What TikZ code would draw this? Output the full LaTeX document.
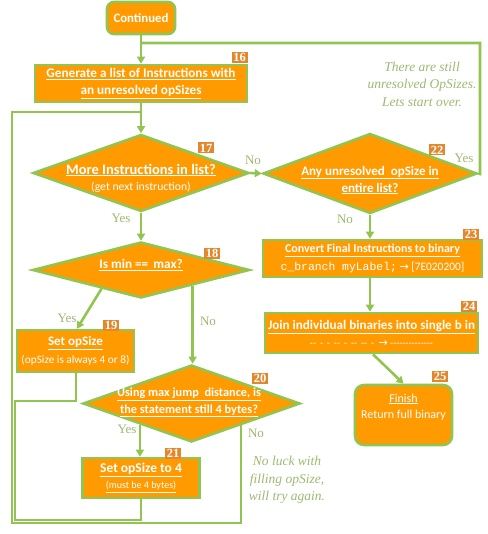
\documentclass[tikz,border=0pt]{standalone}
\usepackage{fontspec}
\setmainfont{Carlito}
\setmonofont{Liberation Mono}
\newfontfamily\notefont{Liberation Serif}
\newfontfamily\symbfont{DejaVu Sans}
\usetikzlibrary{shapes.geometric,arrows.meta,calc}
\definecolor{boxfill}{HTML}{FF9A00}
\definecolor{boxline}{HTML}{92C451}
\definecolor{badgefill}{HTML}{E3872D}
\definecolor{lbl}{HTML}{9DB870}
\newcommand{\ul}[1]{\underline{#1}}
\newcommand{\fs}[1]{\fontsize{#1}{#1}\selectfont}
\tikzset{
  proc/.style={draw=boxline, line width=2.6pt, fill=boxfill, text=white, inner sep=0pt, align=center},
  rproc/.style={proc, rounded corners=7pt},
  dia/.style={diamond, draw=boxline, line width=2.6pt, fill=boxfill, inner sep=0pt},
  dtext/.style={text=white, align=center, inner sep=0pt},
  badge/.style={fill=badgefill, text=white, font=\notefont\bfseries\fs{12.5}, inner sep=0pt, minimum width=16pt, minimum height=11pt},
  conn/.style={draw=boxline, line width=2.6pt},
  arr/.style={conn, -{Triangle[length=7pt,width=8pt]}},
  yn/.style={text=lbl, font=\notefont\fs{13}, inner sep=0pt},
  note/.style={text=lbl, font=\notefont\itshape\fontsize{13.5}{17.5}\selectfont, align=center, inner sep=0pt}
}
\begin{document}
\begin{tikzpicture}[x=1pt,y=-1pt]
\useasboundingbox (0,0) rectangle (487,534);
% nodes
\node[rproc, minimum width=68pt, minimum height=32pt, font=\bfseries\fs{12.8}] (cont) at (141,18) {Continued};
\node[proc, minimum width=212pt, minimum height=37pt, font=\bfseries\fontsize{13.2}{17}\selectfont] (gen) at (141,83.5) {\ul{Generate a list of Instructions with}\\\ul{an unresolved opSizes}};
\node[dia, minimum width=216pt, minimum height=77pt] (d17) at (141,173) {};
\node[dtext] (t17) at (141,178) {\bfseries\fs{14.5}\ul{More Instructions in list?}\\[4pt]\mdseries\fs{11.7}(get next instruction)};
\node[dia, minimum width=214pt, minimum height=80pt] (d22) at (370,173.5) {};
\node[dtext, font=\bfseries\fontsize{13}{17}\selectfont] (t22) at (370,180) {\ul{Any unresolved\ \ opSize in}\\\ul{entire list?}};
\node[dia, minimum width=217pt, minimum height=56pt] (d18) at (141,270) {};
\node[dtext, font=\bfseries\fs{13.2}] (t18) at (141,265) {\ul{Is min == \,max?}};
\node[proc, minimum width=117pt, minimum height=42pt] (b19) at (75.5,351) {\bfseries\fs{13}\ul{Set opSize}\\[4pt]\mdseries\fs{11.3}(opSize is always 4 or 8)};
\node[dia, minimum width=217pt, minimum height=77pt] (d20) at (191.5,403.5) {};
\node[dtext, font=\bfseries\fontsize{12.3}{17}\selectfont] (t20) at (189,402.5) {\ul{Using max jump\ \ distance, is}\\\ul{the statement still 4 bytes?}};
\node[proc, minimum width=117pt, minimum height=40pt] (b21) at (141,478) {\bfseries\fs{13.5}\ul{Set opSize to 4}\\[4pt]\fs{10}\ul{(must be 4 bytes)}};
\node[proc, minimum width=219pt, minimum height=37pt] (b23) at (372.5,258.5) {\bfseries\fs{12}\ul{Convert Final Instructions to binary}\\[4.5pt]\mdseries\fs{11.4}\ttfamily c\_branch myLabel;\rmfamily{} {\symbfont\fs{11}→} [7E020200]};
\node[proc, minimum width=213pt, minimum height=40pt] (b24) at (371.5,333) {\bfseries\fs{13.1}\ul{Join individual binaries into single b in}\\[5pt]\fs{10}-{}- \,- \,- \,-{}- \,- \,-{}- \,-{}- \,- \ {\symbfont\mdseries\fs{11}→} -{}-{}-{}-{}-{}-{}-{}-{}-{}-{}-{}-{}-{}-};
\node[rproc, rounded corners=9pt, minimum width=97pt, minimum height=60pt, font=\fontsize{12}{16}\selectfont] (fin) at (403.5,415) {\ul{Finish}\\Return full binary\\[2pt]\mbox{}};
% badges
\node[badge] (n16) at (239.5,57.5) {16};
\node[badge] (n17) at (206,148) {17};
\node[badge] (n22) at (437,150) {22};
\node[badge] (n18) at (212,253) {18};
\node[badge] (n19) at (111,325) {19};
\node[badge] (n20) at (260,378) {20};
\node[badge] (n21) at (173,453) {21};
\node[badge] (n23) at (471,234) {23};
\node[badge] (n24) at (469,306) {24};
\node[badge] (n25) at (440,376) {25};
% helper coordinates
\coordinate (top) at (141,43);
\coordinate (yesr) at (480,174);
\coordinate (split) at (141,112);
\coordinate (lt) at (12,112);
\coordinate (lb) at (12,523);
\coordinate (nob) at (241,523);
\coordinate (p18y) at ($(d18.west)!0.64!(d18.south)$);
\coordinate (p18n) at ($(d18.south)!0.47!(d18.east)$);
\coordinate (p20y) at ($(d20.west)!0.53!(d20.south)$);
\coordinate (p20n) at ($(d20.south)!0.45!(d20.east)$);
\coordinate (c19) at (76,401);
\coordinate (i19) at (15,401);
\coordinate (ib) at (15,520);
\coordinate (i21) at (141,520);
% connectors
\draw[arr] (cont.south) -- (gen.north);
\draw[conn] (d22.east) -- (yesr) -- (480,43) -- (top);
\draw[arr] (gen.south) -- (d17.north);
\draw[arr] (d17.east) -- (d22.west);
\draw[arr] (d17.south) -- (d18.north);
\draw[arr] (d22.south) -- (d22.south |- b23.north);
\draw[arr] (b23.south -| 370,0) -- (370,0 |- b24.north);
\draw[arr] (373,0 |- b24.south) -- (fin.north);
\draw[arr] (p18y) -- (b19.north -| 77,0);
\draw[arr] (p18n) -- (p18n |- d20.north);
\draw[arr] (p20y) -- (p20y |- b21.north);
\draw[conn] (p20n) -- (p20n |- nob) -- (lb) -- (lt) -- (split);
\draw[conn] (b19.south -| c19) -- (c19) -- (i19) -- (ib) -- (i21) -- (b21.south);
% labels
\node[yn] (l17n) at (253,160) {No};
\node[yn] (l17y) at (121,218) {Yes};
\node[yn] (l22y) at (464,158) {Yes};
\node[yn] (l22n) at (345,219) {No};
\node[yn] (l18y) at (67,318) {Yes};
\node[yn] (l18n) at (208,321) {No};
\node[yn] (l20y) at (127,429) {Yes};
\node[yn] (l20n) at (256,433) {No};
\node[note] (note1) at (422,84) {There are still\\unresolved OpSizes.\\Lets start over.};
\node[note] (note2) at (287,480) {No luck with\\filling opSize,\\will try again.};
\end{tikzpicture}
\end{document}
